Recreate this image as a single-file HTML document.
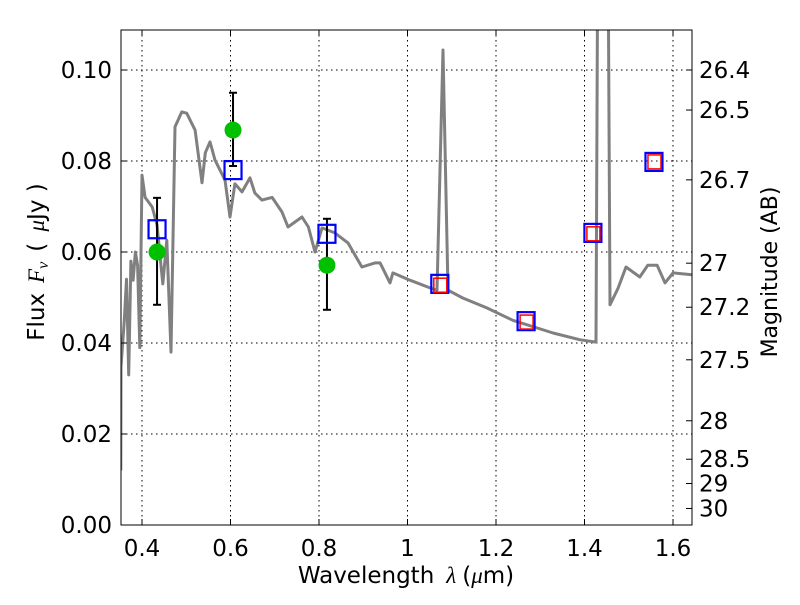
<!DOCTYPE html>
<html><head><meta charset="utf-8"><style>
body{margin:0;background:#fff;}
svg text{font-family:"DejaVu Sans","Liberation Sans",sans-serif;}
</style></head><body>
<svg id="c" width="800" height="600" xmlns="http://www.w3.org/2000/svg">
<defs><clipPath id="clip"><rect x="121" y="30" width="571" height="495"/></clipPath></defs>
<g id="grid"></g>
<g id="marks" clip-path="url(#clip)"></g>
<rect x="121" y="30" width="571" height="495" fill="none" stroke="#000" stroke-width="1"/>
<g id="axes"></g>
<text x="406" y="583" font-size="23" text-anchor="middle">Wavelength<tspan dx="12" font-family="Liberation Serif" font-style="italic">λ</tspan><tspan dx="6">(</tspan><tspan font-family="Liberation Serif" font-style="italic">μ</tspan>m)</text>
<text transform="translate(44,262) rotate(-90)" font-size="23" text-anchor="middle">Flux<tspan dx="10" font-family="Liberation Serif" font-style="italic">F<tspan font-size="16" dy="4">ν</tspan></tspan><tspan dy="-4" dx="10">( </tspan><tspan dx="4" font-family="Liberation Serif" font-style="italic">μ</tspan>Jy )</text>
<text transform="translate(777,272) rotate(-90)" font-size="22" text-anchor="middle">Magnitude (AB)</text>
</svg>
<script>
const specLam=[0.352,0.3525,0.36,0.365,0.37,0.375,0.38,0.385,0.39,0.395,0.40,0.407,0.423,0.434,0.447,0.456,0.4655,0.4746,0.490,0.501,0.520,0.5356,0.543,0.5537,0.565,0.5876,0.5989,0.610,0.626,0.644,0.655,0.671,0.694,0.7164,0.730,0.7616,0.776,0.791,0.8068,0.836,0.8655,0.897,0.9266,0.938,0.9605,0.967,1.0056,1.0508,1.0667,1.0802,1.0915,1.125,1.18,1.238,1.329,1.39,1.426,1.43,1.453,1.4576,1.4757,1.4938,1.525,1.543,1.564,1.582,1.6,1.643];
const specFlux=[0.012,0.0347,0.045,0.054,0.033,0.058,0.0538,0.060,0.057,0.039,0.0769,0.072,0.0699,0.066,0.053,0.0626,0.038,0.0875,0.0908,0.0905,0.0868,0.0752,0.0818,0.0842,0.0802,0.0758,0.0677,0.075,0.0732,0.0763,0.073,0.0714,0.072,0.0688,0.0655,0.0677,0.0655,0.060,0.0653,0.0642,0.062,0.0567,0.0576,0.0576,0.0532,0.0554,0.0538,0.0521,0.0516,0.1044,0.0516,0.0499,0.0477,0.045,0.0422,0.0407,0.0402,0.13,0.13,0.0484,0.052,0.0567,0.0545,0.0571,0.0571,0.0532,0.0554,0.055];
const obsLam=[0.434,0.6057,0.818];
const obsFlux=[0.060,0.0868,0.0571];
const obsLo=[0.0484,0.0789,0.0473];
const obsHi=[0.0719,0.095,0.0673];
const blueLam=[0.434,0.6057,0.818,1.073,1.268,1.419,1.557];
const blueFlux=[0.065,0.078,0.064,0.053,0.0448,0.0642,0.0798];
const redLam=[1.073,1.268,1.419,1.557];
const redFlux=[0.0527,0.0446,0.064,0.0798];
const xTicks=[0.4,0.6,0.8,1,1.2,1.4,1.6];
const xTickLabels=["0.4","0.6","0.8","1","1.2","1.4","1.6"];
const yTicks=[0,0.02,0.04,0.06,0.08,0.10];
const yTickLabels=["0.00","0.02","0.04","0.06","0.08","0.10"];
const magTicks=[26.4,26.5,26.7,27,27.2,27.5,28,28.5,29,30];
const magLabels=["26.4","26.5","26.7","27","27.2","27.5","28","28.5","29","30"];

const NS="http://www.w3.org/2000/svg";
const X=v=>142+(v-0.4)*442.5;
const Y=v=>525-v*4550;
const magFlux=m=>Math.pow(10,(23.9-m)/2.5);
function mk(tag,parent,attrs){const e=document.createElementNS(NS,tag);for(const k in attrs)e.setAttribute(k,attrs[k]);document.getElementById(parent).appendChild(e);return e;}

xTicks.forEach((t,i)=>{
  const g=mk('line','grid',{x1:X(t),x2:X(t),y1:30,y2:525,stroke:'#000','stroke-dasharray':'1.5,3.5','stroke-width':1});
  
  
  const a=mk('line','axes',{x1:X(t),x2:X(t),y1:525,y2:519,stroke:'#000'});
  
  
  const b=mk('line','axes',{x1:X(t),x2:X(t),y1:30,y2:36,stroke:'#000'});
  
  
  const l=mk('text','axes',{x:X(t),y:556,'font-size':23,'text-anchor':'middle'});
  l.textContent=xTickLabels[i];
  
  
});
yTicks.forEach((t,i)=>{
  if(t>0){const g=mk('line','grid',{x1:121,x2:692,y1:Y(t),y2:Y(t),stroke:'#000','stroke-dasharray':'1.5,3.5','stroke-width':1});
  
  }
  const a=mk('line','axes',{x1:121,x2:127,y1:Y(t),y2:Y(t),stroke:'#000'});
  
  
  const l=mk('text','axes',{x:112,y:Y(t)+8,'font-size':23,'text-anchor':'end'});
  l.textContent=yTickLabels[i];
  
  
});
magTicks.forEach((m,i)=>{
  const y=Y(magFlux(m));
  const a=mk('line','axes',{x1:686,x2:692,y1:y,y2:y,stroke:'#000'});
  
  
  const l=mk('text','axes',{x:699,y:y+8,'font-size':23});
  l.textContent=magLabels[i];
  
  
});
const pts=specLam.map((l,i)=>X(l).toFixed(1)+','+Y(specFlux[i]).toFixed(1)).join(' ');
const sp=mk('polyline','marks',{points:pts,fill:'none',stroke:'#808080','stroke-width':3,'stroke-linejoin':'round'});


obsLam.forEach((l,i)=>{
  const x=X(l);
  const e=mk('line','marks',{x1:x,x2:x,y1:Y(obsHi[i]),y2:Y(obsLo[i]),stroke:'#000','stroke-width':2});
  
  
  [obsHi[i],obsLo[i]].forEach(v=>{const c=mk('line','marks',{x1:x-4,x2:x+4,y1:Y(v),y2:Y(v),stroke:'#000','stroke-width':2});
  
  });
  const p=mk('circle','marks',{cx:x,cy:Y(obsFlux[i]),r:8.5,fill:'#00c000'});
  
  
});
blueLam.forEach((l,i)=>{
  const r=mk('rect','marks',{x:X(l)-8.5,y:Y(blueFlux[i])-9,width:17,height:18,fill:'none',stroke:'#0000ff','stroke-width':2.2});
  
  
});
redLam.forEach((l,i)=>{
  const r=mk('rect','marks',{x:X(l)-6,y:Y(redFlux[i])-7,width:13,height:14,fill:'none',stroke:'#ff0000','stroke-width':1.5});
  
  
});
</script>
</body></html>
